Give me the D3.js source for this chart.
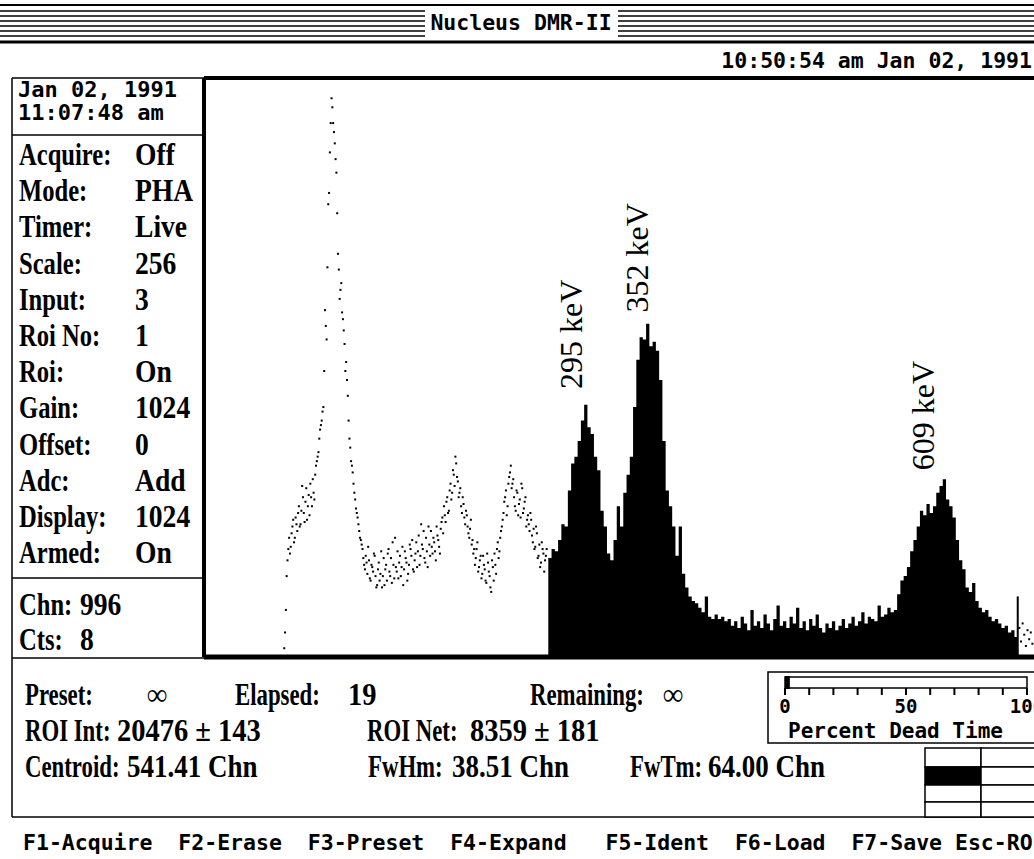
<!DOCTYPE html>
<html>
<head>
<meta charset="utf-8">
<script src="https://cdn.jsdelivr.net/npm/d3@7"></script>
<style>
  body { margin: 0; background: #fff; }
  svg { display: block; }
  .mono { font-family: "DejaVu Sans Mono", monospace; font-weight: bold; fill: #000; }
  .serif { font-family: "Liberation Serif", serif; font-weight: bold; fill: #000; font-size: 30px; }
  .peak { font-family: "Liberation Serif", serif; font-size: 32px; fill: #000; }
</style>
</head>
<body>
<script>
var svgWidth = 1034;
var svgHeight = 859;

// TEXT DATA

var titleText = "Nucleus DMR-II";
var clockText = "10:50:54 am Jan 02, 1991";
var panelDate = ["Jan 02, 1991", "11:07:48 am"];
var statusLabels = ["Acquire:", "Mode:", "Timer:", "Scale:", "Input:", "Roi No:", "Roi:", "Gain:", "Offset:", "Adc:", "Display:", "Armed:"];
var statusValues = ["Off", "PHA", "Live", "256", "3", "1", "On", "1024", "0", "Add", "1024", "On"];
var cursorLabels = ["Chn:", "Cts:"];
var cursorValues = ["996", "8"];
var infoLabels1 = ["Preset:", "Elapsed:", "Remaining:"];
var infoValues1 = ["\u221E", "19", "\u221E"];
var infoLabels2 = ["ROI Int:", "ROI Net:"];
var infoValues2 = ["20476 \u00B1 143", "8359 \u00B1 181"];
var infoLabels3 = ["Centroid:", "FwHm:", "FwTm:"];
var infoValues3 = ["541.41 Chn", "38.51 Chn", "64.00 Chn"];
var functionKeys = "F1-Acquire  F2-Erase  F3-Preset  F4-Expand   F5-Ident  F6-Load  F7-Save Esc-ROI";

// SPECTRUM DATA (counts, full scale 256)

// dots outside the ROI, even channels from 96
var dotStart = 96, dotStep = 2;
var dotCounts = [
  3, 20, 42, 52, 48, 57, 50, 61, 55, 66,
  58, 75, 63, 68, 60, 71, 76, 66, 72, 80,
  86, 90, 100, 104, 110, 153, 140, 200, 223, 247,
  236, 227, 214, 178, 158, 165, 149, 138, 130, 115,
  96, 86, 81, 72, 65, 61, 55, 51, 47, 40,
  44, 36, 42, 33, 39, 45, 35, 31, 41, 36,
  30, 43, 38, 33, 47, 35, 32, 40, 52, 37,
  34, 44, 39, 31, 46, 41, 36, 49, 44, 38,
  42, 50, 46, 40, 58, 47, 43, 52, 39, 49,
  55, 45, 50, 42, 53, 48, 56, 61, 66, 59,
  70, 64, 76, 72, 80, 88, 79, 70, 74, 63,
  67, 58, 62, 54, 56, 49, 45, 40, 47, 37,
  42, 34, 44, 38, 32, 41, 35, 28, 39, 45,
  36, 50, 46, 55, 60, 68, 73, 66, 79, 84,
  76, 70, 64, 72, 67, 61, 74, 65, 70, 60,
  58, 63, 53, 56, 48, 54, 44, 39, 50, 45,
  42, 47
];

// dots outside the ROI, odd channels from 97
var dotOddStart = 97;
var dotOddCounts = [
  10, 35, 47, 45, 54, 60, 52, 58, 63, 57,
  64, 70, 59, 74, 66, 62, 70, 78, 69, 84,
  88, 96, 102, 108, 126, 146, 172, 205, 236, 243,
  232, 220, 196, 171, 162, 152, 144, 126, 122, 104,
  92, 84, 76, 69, 63, 58, 52, 49, 43, 38,
  41, 48, 34, 40, 37, 44, 30, 38, 33, 46,
  35, 31, 40, 45, 37, 43, 50, 34, 39, 46,
  41, 35, 48, 38, 43, 33, 40, 47, 51, 37,
  45, 39, 53, 44, 49, 55, 41, 46, 57, 44,
  48, 52, 46, 57, 51, 45, 59, 54, 62, 68,
  63, 73, 69, 82, 75, 85, 77, 72, 66, 70,
  61, 64, 57, 52, 60, 51, 47, 43, 50, 39,
  44, 36, 40, 33, 45, 37, 30, 42, 33, 40,
  47, 43, 52, 57, 63, 70, 62, 76, 81, 74,
  78, 66, 73, 62, 69, 76, 63, 68, 57, 62,
  55, 60, 50, 47, 57, 43, 49, 41, 47, 37,
  44
];

// filled ROI, 4-channel bins from 420
var roiStart = 420, roiStep = 4;
var roiCounts = [
  43, 47, 46, 51, 58, 57, 73, 85, 88, 95,
  104, 111, 101, 98, 88, 82, 64, 57, 45, 42,
  51, 66, 57, 72, 80, 88, 110, 131, 141, 140,
  147, 137, 139, 135, 122, 95, 73, 66, 57, 44,
  57, 36, 30, 26, 24, 23, 21, 19, 26, 17,
  16, 18, 16, 17, 15, 16, 13, 15, 12, 17,
  14, 11, 20, 13, 15, 12, 18, 14, 11, 16,
  22, 13, 15, 12, 17, 14, 21, 12, 15, 11,
  16, 13, 18, 12, 10, 14, 12, 15, 11, 13,
  16, 12, 14, 17, 13, 15, 19, 14, 17, 16,
  15, 22, 17, 18, 21, 19, 20, 27, 33, 35,
  39, 46, 51, 57, 64, 62, 67, 63, 66, 72,
  75, 78, 69, 66, 61, 51, 42, 38, 30, 28,
  32, 24, 21, 19, 20, 17, 15, 16, 14, 12,
  13, 10, 11, 8
];

var tailStart = 998, tailStep = 2;
var tailCounts = [12, 6, 14, 9, 4, 11, 7, 10, 5];

var cursorChannel = 996;
var cursorTop = 26;

var peakLabels = ["295 keV", "352 keV", "609 keV"];
var peakLabelChannels = [447, 528, 880];
var peakLabelCounts = [118, 152, 82];

var deadTimeValue = 2;
var deadTicks = [0, 10, 20, 30, 40, 50, 60, 70, 80, 90, 100];
var deadTickLabels = [0, 50, 100];
var deadTitle = "Percent Dead Time";

var gridCells = [[0, 0], [1, 0], [0, 0], [0, 0]];

// SVG

var svg = d3.select("body")
  .append("svg")
  .attr("width", svgWidth)
  .attr("height", svgHeight);

function hline(x1, x2, y, w) {
  svg.append("line").attr("x1", x1).attr("x2", x2).attr("y1", y).attr("y2", y)
    .attr("stroke", "#000").attr("stroke-width", w);
}
function vline(x, y1, y2, w) {
  svg.append("line").attr("x1", x).attr("x2", x).attr("y1", y1).attr("y2", y2)
    .attr("stroke", "#000").attr("stroke-width", w);
}
function serifText(str, x, y, sx) {
  svg.append("text").attr("class", "serif")
    .attr("transform", `translate(${x},${y}) scale(${sx},1.05)`)
    .text(str);
}

// TITLE BAR

hline(0, svgWidth, 5, 2);
[11, 16, 21, 26, 31, 36].forEach(function(y) {
  hline(0, 425, y, 1.6);
  hline(618, svgWidth, y, 1.6);
});
hline(0, svgWidth, 42, 3);

svg.append("text").attr("class", "mono")
  .attr("x", 521).attr("y", 30)
  .attr("text-anchor", "middle")
  .style("font-size", "21.5px")
  .text(titleText);

svg.append("text").attr("class", "mono")
  .attr("x", 1032).attr("y", 68)
  .attr("text-anchor", "end")
  .style("font-size", "21.5px")
  .text(clockText);

// FRAMES

var frameTop = 78, frameLeft = 204, baseY = 657;

hline(12, frameLeft, frameTop, 1.5);
hline(frameLeft, svgWidth, frameTop, 4);
vline(frameLeft, frameTop, baseY, 4);
vline(12, frameTop, 817, 1.5);
hline(12, frameLeft, 135, 1.5);
hline(12, frameLeft, 578, 1.5);
hline(frameLeft, svgWidth, baseY, 5);
hline(12, frameLeft, baseY + 1, 1.5);
hline(12, svgWidth, 817, 1.5);

// LEFT PANEL

panelDate.forEach(function(s, i) {
  svg.append("text").attr("class", "mono")
    .attr("x", 18).attr("y", 97 + i * 23)
    .style("font-size", "22px")
    .text(s);
});

statusLabels.forEach(function(s, i) {
  serifText(s, 19, 165 + i * 36.2, 0.82);
  serifText(statusValues[i], 135, 165 + i * 36.2, 0.92);
});

cursorLabels.forEach(function(s, i) {
  serifText(s, 19, 615 + i * 35, 0.82);
  serifText(cursorValues[i], 80, 615 + i * 35, 0.92);
});

// SPECTRUM SCALES

var xScale = d3.scaleLinear().domain([0, 1024]).range([206, 206 + 1024 * 0.815]);
var yScale = d3.scaleLinear().domain([0, 256]).range([655, frameTop]);

var chart = svg.append("g");

var dotData = dotCounts.map(function(c, i) { return { ch: dotStart + i * dotStep, c: c }; })
  .concat(dotOddCounts.map(function(c, i) { return { ch: dotOddStart + i * dotStep, c: c }; }))
  .concat(tailCounts.map(function(c, i) { return { ch: tailStart + i * tailStep, c: c }; }));
var roiData = roiCounts.map(function(c, i) { return { ch: roiStart + i * roiStep, c: c }; });
roiData.push({ ch: roiStart + roiCounts.length * roiStep, c: roiCounts[roiCounts.length - 1] });

chart.selectAll("rect.dot")
  .data(dotData)
  .enter()
  .append("rect")
  .attr("class", "dot")
  .attr("x", d => xScale(d.ch) - 1)
  .attr("y", d => yScale(d.c) - 1)
  .attr("width", 2)
  .attr("height", 2)
  .attr("fill", "#000");

var roiArea = d3.area()
  .curve(d3.curveStepAfter)
  .x(d => xScale(d.ch))
  .y0(yScale(0))
  .y1(d => yScale(d.c));

chart.append("path")
  .datum(roiData)
  .attr("d", roiArea)
  .attr("fill", "#000");

chart.append("line")
  .attr("x1", xScale(cursorChannel)).attr("x2", xScale(cursorChannel))
  .attr("y1", yScale(0)).attr("y2", yScale(cursorTop))
  .attr("stroke", "#000").attr("stroke-width", 2);

// PEAK LABELS

peakLabels.forEach(function(s, i) {
  var px = xScale(peakLabelChannels[i]);
  var py = yScale(peakLabelCounts[i]);
  chart.append("text").attr("class", "peak")
    .attr("transform", `translate(${px},${py}) rotate(-90)`)
    .attr("dy", "0.35em")
    .text(s);
});

// BOTTOM PANEL

var row1 = { y: 705, lx: [25, 235, 530], vx: [147, 348, 663] };
var row2 = { y: 741, lx: [25, 367], vx: [117, 470] };
var row3 = { y: 777, lx: [25, 368, 630], vx: [127, 452, 708] };

infoLabels1.forEach(function(s, i) {
  serifText(s, row1.lx[i], row1.y, 0.76);
  serifText(infoValues1[i], row1.vx[i], row1.y, 0.95);
});
infoLabels2.forEach(function(s, i) {
  serifText(s, row2.lx[i], row2.y, 0.76);
  serifText(infoValues2[i], row2.vx[i], row2.y, 0.95);
});
infoLabels3.forEach(function(s, i) {
  serifText(s, row3.lx[i], row3.y, 0.76);
  serifText(infoValues3[i], row3.vx[i], row3.y, 0.9);
});

// DEAD TIME METER

var deadScale = d3.scaleLinear().domain([0, 100]).range([785, 1027]);

svg.append("rect")
  .attr("x", 768).attr("y", 672).attr("width", 300).attr("height", 71)
  .attr("fill", "none").attr("stroke", "#000").attr("stroke-width", 1.5);

svg.append("rect")
  .attr("x", deadScale(0)).attr("y", 677)
  .attr("width", deadScale(100) - deadScale(0)).attr("height", 11)
  .attr("fill", "none").attr("stroke", "#000").attr("stroke-width", 1.5);

svg.append("rect")
  .attr("x", deadScale(0)).attr("y", 676)
  .attr("width", deadScale(deadTimeValue) - deadScale(0)).attr("height", 13)
  .attr("fill", "#000");

svg.selectAll("line.tick")
  .data(deadTicks)
  .enter()
  .append("line")
  .attr("class", "tick")
  .attr("x1", d => deadScale(d)).attr("x2", d => deadScale(d))
  .attr("y1", 688).attr("y2", 695)
  .attr("stroke", "#000").attr("stroke-width", 2);

svg.selectAll("text.dtl")
  .data(deadTickLabels)
  .enter()
  .append("text")
  .attr("class", "mono dtl")
  .attr("x", d => deadScale(d))
  .attr("y", 713)
  .attr("text-anchor", "middle")
  .style("font-size", "19px")
  .text(d => d);

svg.append("text").attr("class", "mono")
  .attr("x", 788).attr("y", 738)
  .style("font-size", "21px")
  .text(deadTitle);

// STATUS GRID

var gridCols = [925, 981, 1040];
var gridRows = [748, 767, 785, 802, 817];

gridCells.forEach(function(row, r) {
  row.forEach(function(v, c) {
    svg.append("rect")
      .attr("x", gridCols[c]).attr("y", gridRows[r])
      .attr("width", gridCols[c + 1] - gridCols[c])
      .attr("height", gridRows[r + 1] - gridRows[r])
      .attr("fill", v ? "#000" : "#fff")
      .attr("stroke", "#000").attr("stroke-width", 1.5);
  });
});

// FUNCTION KEYS

svg.append("text").attr("class", "mono")
  .attr("x", 23).attr("y", 850)
  .style("font-size", "21.5px")
  .attr("xml:space", "preserve")
  .style("white-space", "pre")
  .text(functionKeys);
</script>
</body>
</html>
